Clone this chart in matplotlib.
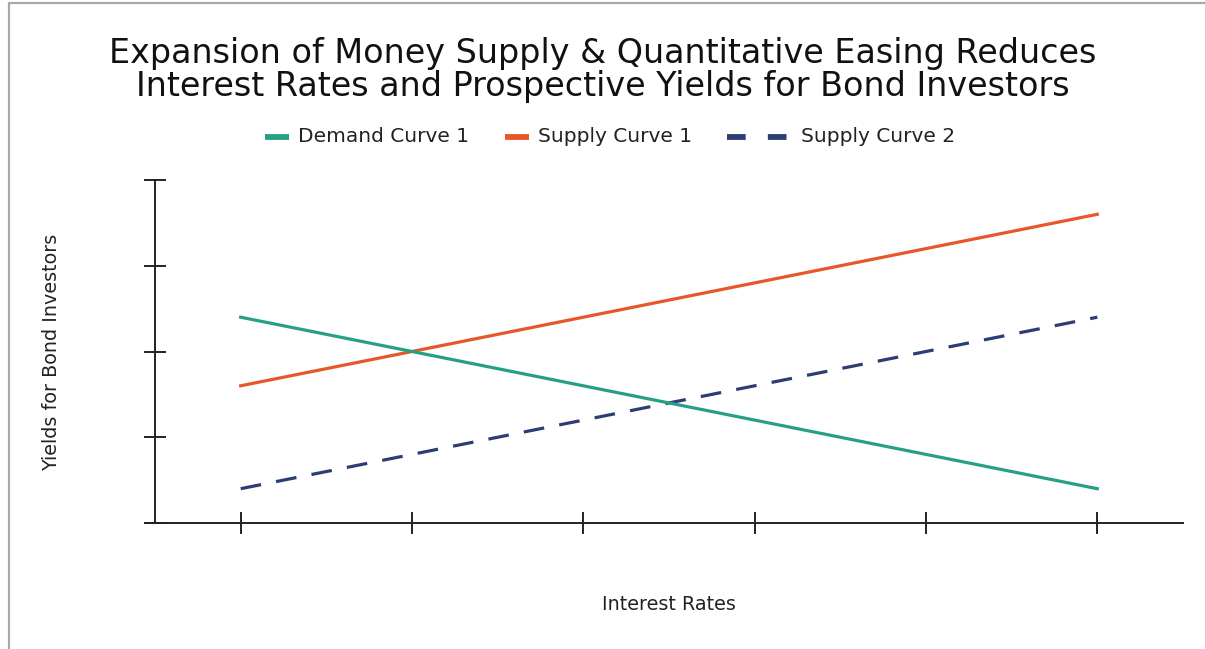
import matplotlib
matplotlib.use("Agg")
import matplotlib.pyplot as plt
from matplotlib.lines import Line2D

plt.rcParams["font.family"] = ["DejaVu Sans"]

# Chart data
interest_rate_steps = [0, 1, 2, 3, 4, 5]
demand_curve_1 = [6, 5, 4, 3, 2, 1]
supply_curve_1 = [4, 5, 6, 7, 8, 9]
supply_curve_2 = [1, 2, 3, 4, 5, 6]
y_ticks = [0, 2.5, 5, 7.5, 10]
series_names = ["Demand Curve 1", "Supply Curve 1", "Supply Curve 2"]

title = ("Expansion of Money Supply & Quantitative Easing Reduces\n"
         "Interest Rates and Prospective Yields for Bond Investors")

W, H, DPI = 1205, 649, 100
fig = plt.figure(figsize=(W / DPI, H / DPI), dpi=DPI)
fig.patch.set_facecolor("white")


def fx(px):
    return px / W


def fy(py):
    return 1 - py / H


# plot area in pixel coordinates
left, right, top, bottom = 155, 1183, 180, 523
ax = fig.add_axes([fx(left), fy(bottom), (right - left) / W, (bottom - top) / H])

teal = "#26a085"
orange = "#e8562a"
navy = "#2b3d73"
ink = "#222222"

ax.plot(interest_rate_steps, supply_curve_2, color=navy, lw=2.3,
        dashes=(6.5, 4.8), solid_capstyle="butt")
ax.plot(interest_rate_steps, supply_curve_1, color=orange, lw=2.3)
ax.plot(interest_rate_steps, demand_curve_1, color=teal, lw=2.3)

ax.set_xlim(-0.5, 5.5)
ax.set_ylim(0, 10)
ax.set_xticks(interest_rate_steps)
ax.set_yticks(y_ticks)
ax.set_xticklabels([])
ax.set_yticklabels([])
ax.tick_params(axis="both", direction="inout", length=16, width=1.4, color=ink)

for side in ("top", "right"):
    ax.spines[side].set_visible(False)
for side in ("left", "bottom"):
    ax.spines[side].set_linewidth(1.4)
    ax.spines[side].set_color(ink)
ax.spines["bottom"].set_bounds(-0.5 - 10 / 171.6, 5.5)

ax.set_xlabel("Interest Rates", fontsize=13.8, color=ink, labelpad=0)
ax.xaxis.set_label_coords(0.5, 1 - (605 - top) / (bottom - top))
ax.xaxis.label.set_va("center")
ax.set_ylabel("Yields for Bond Investors", fontsize=13.8, color=ink)
ax.yaxis.set_label_coords((52 - left) / (right - left), 1 - (352 - top) / (bottom - top))
ax.yaxis.label.set_va("center")

fig.text(0.5, fy(70), title, ha="center", va="center", fontsize=24,
         color="#111111", linespacing=0.98)

# legend row above the plot
legend_y = fy(137)
legend_items = [
    (series_names[0], teal, 265, 289, None),
    (series_names[1], orange, 505, 529, None),
    (series_names[2], navy, 727, 790, (3.2, 3.8)),
]
label_x = [298, 538, 801]
for (name, color, x0, x1, dash), lx in zip(legend_items, label_x):
    handle = Line2D([fx(x0), fx(x1)], [legend_y, legend_y], transform=fig.transFigure,
                    color=color, lw=4.2, solid_capstyle="butt")
    if dash is not None:
        handle.set_dashes(dash)
        handle.set_dash_capstyle("butt")
    fig.add_artist(handle)
    fig.text(fx(lx), legend_y, name, ha="left", va="center", fontsize=14.5, color=ink)

# gray page frame on the top and left edges
fig.add_artist(Line2D([fx(9), fx(9), 1.0], [0.0, fy(3), fy(3)],
                      transform=fig.transFigure, color="#a8a8a8", lw=1.6))

fig.savefig("out.png", dpi=DPI)
